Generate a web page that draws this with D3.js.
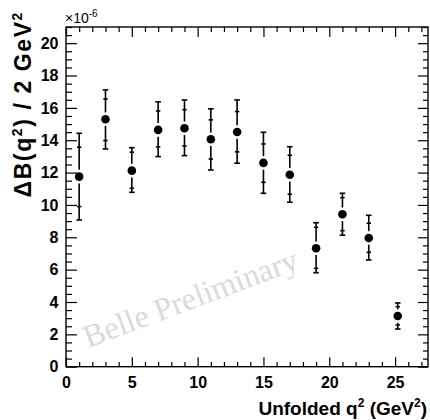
<!DOCTYPE html>
<html>
<head>
<meta charset="utf-8">
<script src="https://cdn.jsdelivr.net/npm/d3@7"></script>
<style>
html,body{margin:0;padding:0;background:#fff;}
svg{display:block;}
</style>
</head>
<body>
<svg id="chart" width="430" height="420"></svg>
<script>
// q^2 bin centres (GeV^2)
const q2 = [1, 3, 5, 7, 9, 11, 13, 15, 17, 19, 21, 23, 25.2];
// central values (x 1e-6)
const values = [11.75, 15.30, 12.12, 14.64, 14.74, 14.06, 14.51, 12.60, 11.87, 7.32, 9.42, 7.96, 3.13];
// inner (statistical) error band
const statHigh = [13.57, 16.55, 13.26, 15.81, 15.89, 15.26, 15.77, 13.77, 13.07, 8.62, 10.45, 8.87, 3.71];
const statLow  = [9.90, 13.98, 11.03, 13.59, 13.65, 12.84, 13.28, 11.40, 10.66, 6.08, 8.41, 7.07, 2.58];
// outer (total) error band
const totHigh = [14.43, 17.11, 13.54, 16.37, 16.49, 15.94, 16.49, 14.49, 13.60, 8.90, 10.72, 9.36, 3.94];
const totLow  = [9.07, 13.46, 10.78, 12.99, 13.05, 12.16, 12.58, 10.72, 10.17, 5.81, 8.13, 6.60, 2.33];

const xMajor = [0, 5, 10, 15, 20, 25];
const yMajor = [0, 2, 4, 6, 8, 10, 12, 14, 16, 18, 20];

const SANS = "'Liberation Sans', Arial, Helvetica, sans-serif";
const SERIF = "'Liberation Serif', 'Times New Roman', serif";

const svg = d3.select("#chart");
const L = 66, R = 428, T = 27, B = 366.7;
const x = d3.scaleLinear().domain([0, 27.5]).range([L, R]);
const y = d3.scaleLinear().domain([0, 21]).range([B, T]);

const xMinor = d3.range(0, 27.5, 1).filter(v => !xMajor.includes(v));
const yMinor = d3.range(0, 21.01, 0.5).filter(v => !yMajor.includes(v));

function styleAxis(g) {
  g.select(".domain").remove();
  g.selectAll(".tick line").attr("stroke", "#000").attr("stroke-width", 1.2);
}
function styleLabels(g) {
  g.selectAll("text").style("font-size", "16px").style("font-weight", "bold")
    .style("font-family", SANS).attr("fill", "#000");
}

// bottom axis
svg.append("g").attr("transform", `translate(0,${B})`)
  .call(d3.axisBottom(x).tickValues(xMinor).tickSize(-4.7).tickSizeOuter(0).tickFormat(""))
  .call(styleAxis);
svg.append("g").attr("transform", `translate(0,${B})`)
  .call(d3.axisBottom(x).tickValues(xMajor).tickSize(-9.5).tickSizeOuter(0).tickPadding(10.3).tickFormat(d3.format("d")))
  .call(styleAxis).call(styleLabels);
// top axis (mirrored ticks)
svg.append("g").attr("transform", `translate(0,${T})`)
  .call(d3.axisTop(x).tickValues(xMinor).tickSize(-5).tickSizeOuter(0).tickFormat(""))
  .call(styleAxis);
svg.append("g").attr("transform", `translate(0,${T})`)
  .call(d3.axisTop(x).tickValues(xMajor).tickSize(-10).tickSizeOuter(0).tickFormat(""))
  .call(styleAxis);
// left axis
svg.append("g").attr("transform", `translate(${L},0)`)
  .call(d3.axisLeft(y).tickValues(yMinor).tickSize(-6).tickSizeOuter(0).tickFormat(""))
  .call(styleAxis);
svg.append("g").attr("transform", `translate(${L},0)`)
  .call(d3.axisLeft(y).tickValues(yMajor).tickSize(-11).tickSizeOuter(0).tickPadding(7.5).tickFormat(d3.format("d")))
  .call(styleAxis).call(styleLabels);
// right axis (mirrored ticks)
svg.append("g").attr("transform", `translate(${R},0)`)
  .call(d3.axisRight(y).tickValues(yMinor).tickSize(-5).tickSizeOuter(0).tickFormat(""))
  .call(styleAxis);
svg.append("g").attr("transform", `translate(${R},0)`)
  .call(d3.axisRight(y).tickValues(yMajor).tickSize(-10).tickSizeOuter(0).tickFormat(""))
  .call(styleAxis);

// frame
svg.append("rect").attr("x", L).attr("y", T).attr("width", R - L).attr("height", B - T)
  .attr("fill", "none").attr("stroke", "#000").attr("stroke-width", 1.4);

// watermark
svg.append("text")
  .attr("transform", `translate(88,348) rotate(-20.6)`)
  .style("font-family", SERIF).style("font-size", "32px").attr("fill", "#dadada")
  .text("Belle Preliminary");

// data
const data = q2.map((q, i) => ({q, v: values[i], sh: statHigh[i], sl: statLow[i], th: totHigh[i], tl: totLow[i]}));
const r = 4.3, gap = 2.5;
const eg = svg.append("g");
data.forEach(d => {
  const cx = x(d.q), cy = y(d.v);
  const yTop = y(d.th), yBot = y(d.tl);
  const g = eg.append("g").attr("stroke", "#000").attr("stroke-width", 1.6);
  if (cy - r - gap > yTop) g.append("line").attr("x1", cx).attr("x2", cx).attr("y1", yTop).attr("y2", cy - r - gap);
  if (cy + r + gap < yBot) g.append("line").attr("x1", cx).attr("x2", cx).attr("y1", cy + r + gap).attr("y2", yBot);
  // total error caps
  g.append("line").attr("x1", cx - 2.8).attr("x2", cx + 2.8).attr("y1", yTop).attr("y2", yTop);
  g.append("line").attr("x1", cx - 2.8).attr("x2", cx + 2.8).attr("y1", yBot).attr("y2", yBot);
  // stat ticks
  g.append("line").attr("x1", cx - 2.2).attr("x2", cx + 2.2).attr("y1", y(d.sh)).attr("y2", y(d.sh));
  g.append("line").attr("x1", cx - 2.2).attr("x2", cx + 2.2).attr("y1", y(d.sl)).attr("y2", y(d.sl));
});
svg.append("g").selectAll("circle").data(data).join("circle")
  .attr("cx", d => x(d.q)).attr("cy", d => y(d.v)).attr("r", r).attr("fill", "#000");

// exponent label
const ex = svg.append("text").attr("x", 65).attr("y", 23)
  .style("font-family", SANS).style("font-size", "14px").attr("fill", "#000");
ex.append("tspan").text("×10");
ex.append("tspan").style("font-size", "10px").attr("dy", -6).text("-6");

// x title
const xt = svg.append("text").attr("x", 427).attr("y", 415).attr("text-anchor", "end")
  .style("font-family", SANS).style("font-size", "19px").style("font-weight", "bold").attr("fill", "#000");
xt.append("tspan").text("Unfolded q");
xt.append("tspan").style("font-size", "12px").attr("dy", -8).text("2");
xt.append("tspan").attr("dy", 8).text(" (GeV");
xt.append("tspan").style("font-size", "12px").attr("dy", -8).text("2");
xt.append("tspan").attr("dy", 8).text(")");

// y title
const yt = svg.append("text").attr("transform", "translate(30.5,11) rotate(-90)").attr("text-anchor", "end")
  .style("font-family", SANS).style("font-size", "23px").style("font-weight", "bold")
  .style("letter-spacing", "1.6px").attr("fill", "#000");
yt.append("tspan").text("ΔB(q");
yt.append("tspan").style("font-size", "14px").attr("dy", -9).text("2");
yt.append("tspan").attr("dy", 9).text(") / 2 GeV");
yt.append("tspan").style("font-size", "14px").attr("dy", -9).text("2");
</script>
</body>
</html>
